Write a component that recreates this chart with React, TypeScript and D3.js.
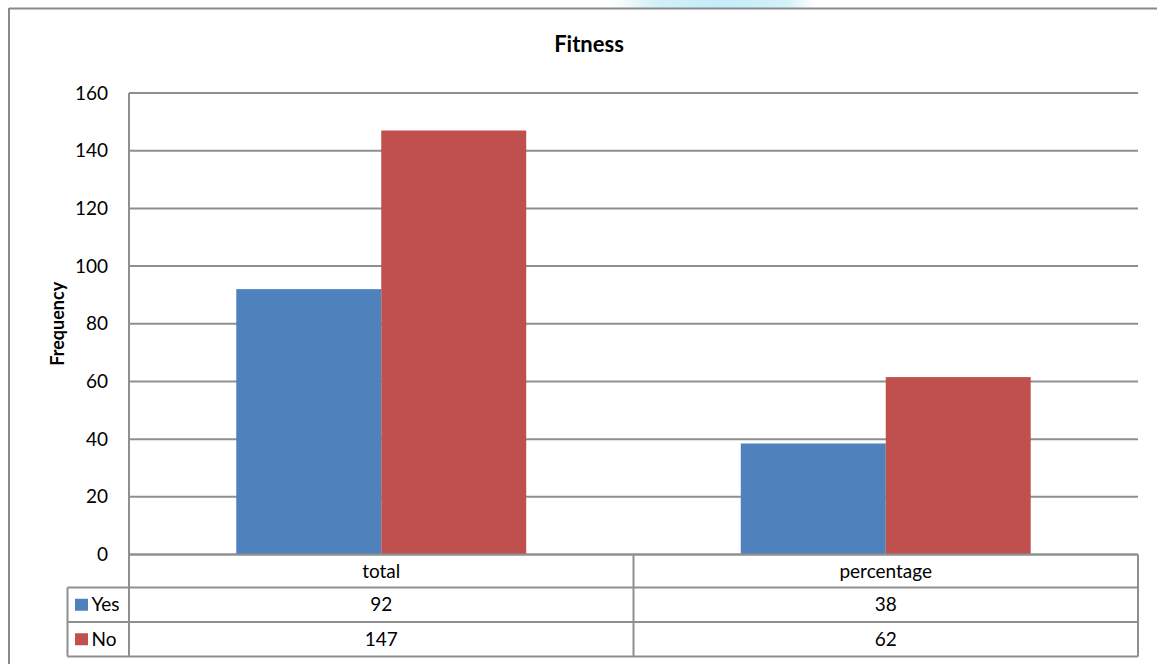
import React from "react";
import * as d3 from "d3";

const categories = ["total", "percentage"];
const seriesNames = ["Yes", "No"];
const yesValues = [92, 38.49];
const noValues = [147, 61.51];
const yTicks = [0, 20, 40, 60, 80, 100, 120, 140, 160];
const seriesColors = ["#4F81BD", "#C0504D"];
const chartTitle = "Fitness";
const yTitle = "Frequency";

const W = 1157;
const H = 664;
const FONT = "Lato, 'Open Sans', sans-serif";

export default function App() {
  const left = 129;
  const right = 1138;
  const top = 93;
  const bottom = 554.5;
  const rowH = [33, 34.5, 34.5];
  const gridColor = "#8f8f8f";

  const x = d3.scaleBand<string>().domain(categories).range([left, right]).padding(0);
  const xi = d3
    .scaleBand<string>()
    .domain(seriesNames)
    .range([0, x.bandwidth()])
    .paddingInner(0)
    .paddingOuter(0.74);
  const y = d3.scaleLinear().domain([0, 160]).range([bottom, top]);
  const fmt = d3.format(".0f");
  const values = [yesValues, noValues];

  const rowTop = [bottom, bottom + rowH[0], bottom + rowH[0] + rowH[1]];
  const tableBottom = rowTop[2] + rowH[2];
  const legendLeft = 67.5;

  return (
    <svg
      width={W}
      height={H}
      style={{ position: "absolute", left: 0, top: 0, background: "#fff" }}
      fontFamily={FONT}
    >
      <defs>
        <linearGradient id="cyan" x1="0" x2="1" y1="0" y2="0">
          <stop offset="0" stopColor="#c8eef8" stopOpacity="0" />
          <stop offset="0.2" stopColor="#c8eef8" stopOpacity="0.8" />
          <stop offset="0.5" stopColor="#c4ecf8" stopOpacity="1" />
          <stop offset="0.85" stopColor="#c8eef8" stopOpacity="0.8" />
          <stop offset="1" stopColor="#c8eef8" stopOpacity="0" />
        </linearGradient>
      </defs>
      <rect x={W} y={0} width={0} height={0} />
      <rect x={612} y={0} width={205} height={8} fill="url(#cyan)" />
      {/* chart frame */}
      <line x1={9} x2={W} y1={8.5} y2={8.5} stroke="#8a8a8a" strokeWidth={2} />
      <line x1={9} x2={9} y1={8} y2={H} stroke="#8a8a8a" strokeWidth={2} />

      {/* title */}
      <text x={589} y={52} textAnchor="middle" fontWeight="bold" fontSize={22} fill="#000">
        {chartTitle}
      </text>

      {/* y axis title */}
      <text
        transform={`translate(64,${(top + bottom) / 2}) rotate(-90)`}
        textAnchor="middle"
        fontWeight="bold"
        fontSize={18}
        fill="#000"
      >
        {yTitle}
      </text>

      {/* gridlines */}
      {yTicks.map((t) => (
        <g key={t}>
          <line x1={left} x2={right} y1={y(t)} y2={y(t)} stroke={gridColor} strokeWidth={2} />
          <text x={108} y={y(t)} dy="0.35em" textAnchor="end" fontSize={19} fill="#000">
            {t}
          </text>
        </g>
      ))}

      {/* bars */}
      {categories.map((c, ci) =>
        seriesNames.map((s, si) => (
          <rect
            key={c + s}
            x={(x(c) as number) + (xi(s) as number)}
            y={y(values[si][ci])}
            width={xi.bandwidth()}
            height={bottom - y(values[si][ci])}
            fill={seriesColors[si]}
          />
        ))
      )}

      {/* axis line */}
      <line x1={left} x2={left} y1={top} y2={tableBottom} stroke={gridColor} strokeWidth={2} />
      <line x1={left} x2={right} y1={bottom} y2={bottom} stroke={gridColor} strokeWidth={2} />

      {/* data table */}
      <g stroke={gridColor} strokeWidth={2} fill="none">
        <line x1={right} x2={right} y1={bottom} y2={tableBottom} />
        {categories.slice(1).map((c) => (
          <line key={c} x1={x(c) as number} x2={x(c) as number} y1={bottom} y2={tableBottom} />
        ))}
        <line x1={legendLeft} x2={right} y1={rowTop[1]} y2={rowTop[1]} />
        <line x1={legendLeft} x2={right} y1={rowTop[2]} y2={rowTop[2]} />
        <line x1={legendLeft} x2={right} y1={tableBottom} y2={tableBottom} />
        <line x1={legendLeft} x2={legendLeft} y1={rowTop[1]} y2={tableBottom} />
      </g>
      {categories.map((c) => (
        <text
          key={c}
          x={(x(c) as number) + x.bandwidth() / 2}
          y={rowTop[0] + rowH[0] / 2}
          dy="0.35em"
          textAnchor="middle"
          fontSize={19}
          fill="#000"
        >
          {c}
        </text>
      ))}
      {seriesNames.map((s, si) => {
        const cy = rowTop[si + 1] + rowH[si + 1] / 2;
        return (
          <g key={s}>
            <rect x={75} y={cy - 6} width={13} height={12} fill={seriesColors[si]} />
            <text x={91.5} y={cy} dy="0.35em" fontSize={19} fill="#000">
              {s}
            </text>
            {categories.map((c, ci) => (
              <text
                key={c}
                x={(x(c) as number) + x.bandwidth() / 2}
                y={cy}
                dy="0.35em"
                textAnchor="middle"
                fontSize={19}
                fill="#000"
              >
                {fmt(values[si][ci])}
              </text>
            ))}
          </g>
        );
      })}
    </svg>
  );
}
